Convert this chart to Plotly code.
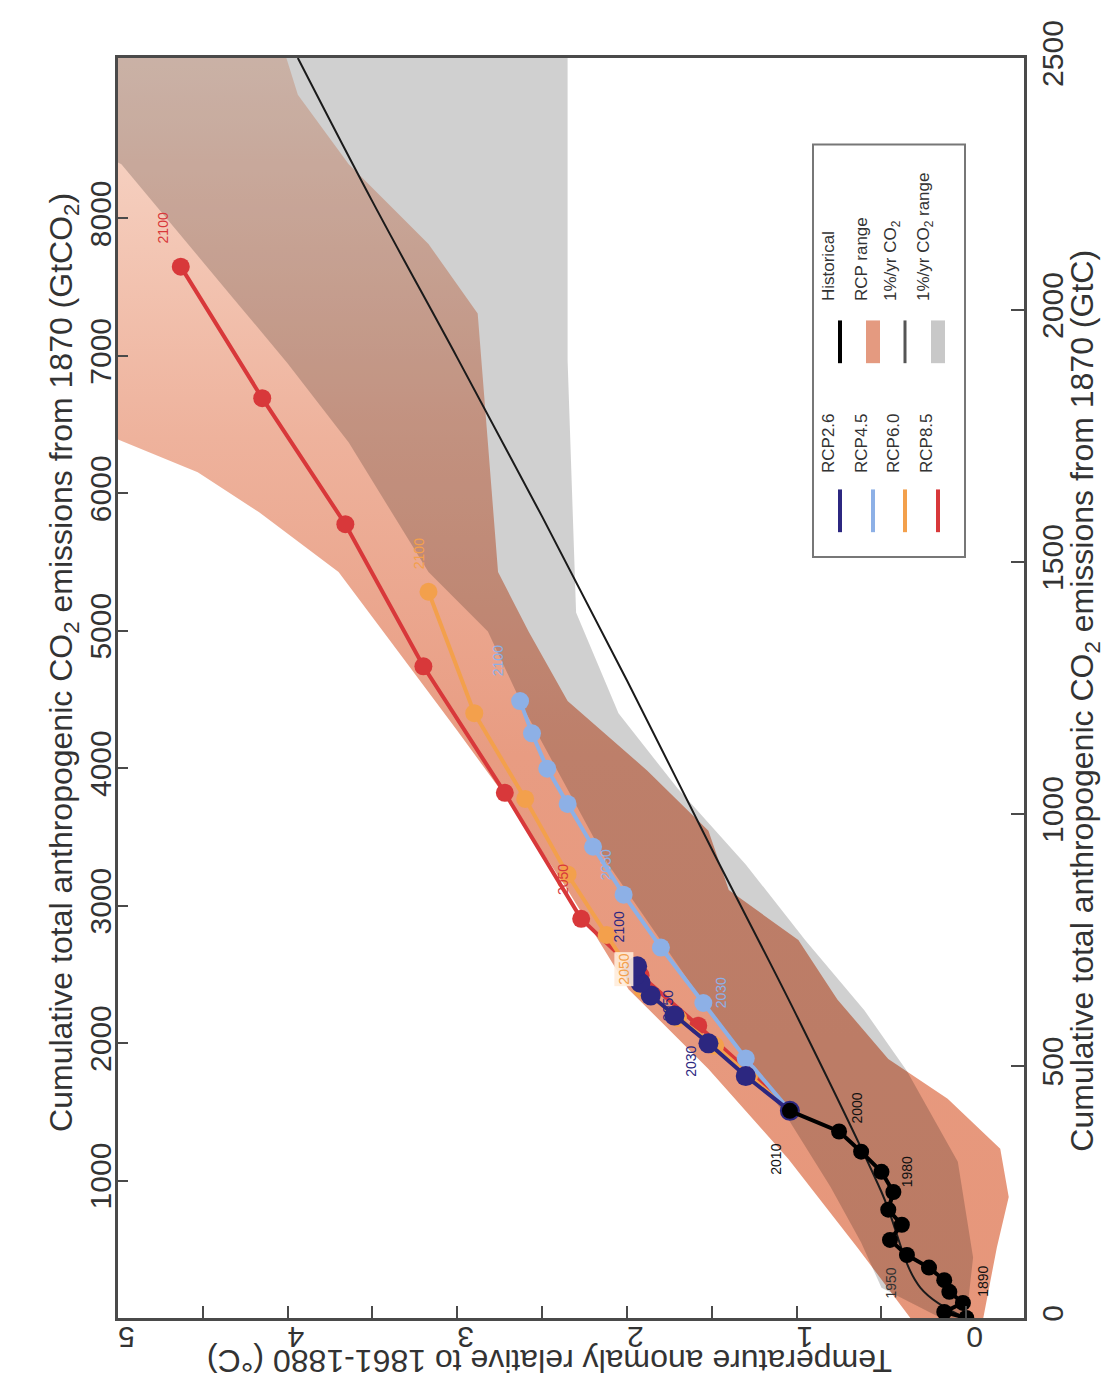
import plotly.graph_objects as go

# ---------------- data (x = temperature anomaly °C, y = cumulative GtC) ----------------
hist_years = [1870, 1880, 1890, 1900, 1910, 1920, 1930, 1940, 1950, 1960, 1970, 1980, 1990, 2000, 2010]
hist_T = [0.00, 0.13, 0.02, 0.10, 0.13, 0.22, 0.35, 0.45, 0.38, 0.46, 0.43, 0.50, 0.62, 0.75, 1.04]
hist_E = [0, 12, 30, 52, 75, 100, 125, 155, 185, 215, 250, 290, 330, 370, 411]

rcp_years = [2010, 2020, 2030, 2040, 2050, 2060, 2070, 2080, 2090, 2100]
rcp26_T = [1.04, 1.30, 1.52, 1.72, 1.86, 1.92, 1.95, 1.96, 1.95, 1.94]
rcp26_E = [411, 480, 545, 600, 640, 665, 680, 690, 695, 698]
rcp45_T = [1.04, 1.30, 1.55, 1.80, 2.02, 2.20, 2.35, 2.47, 2.56, 2.63]
rcp45_E = [411, 515, 625, 735, 840, 935, 1020, 1090, 1160, 1224]
rcp60_T = [1.04, 1.28, 1.48, 1.70, 1.91, 2.12, 2.35, 2.60, 2.90, 3.17]
rcp60_E = [411, 480, 540, 595, 652, 760, 880, 1030, 1200, 1441]
rcp85_T = [1.04, 1.30, 1.58, 1.92, 2.27, 2.72, 3.20, 3.66, 4.15, 4.63]
rcp85_E = [411, 495, 580, 680, 792, 1042, 1293, 1575, 1825, 2086]

# 1%/yr CO2 mean line
pct_T = [0.00, 0.27, 0.50, 1.00, 1.50, 2.00, 2.50, 3.00, 3.50, 3.94]
pct_E = [0, 60, 250, 600, 930, 1265, 1590, 1905, 2215, 2500]

# 1%/yr CO2 range (warm edge, cool edge)
pct_hi_T = [0.15, 0.50, 0.62, 0.80, 1.05, 1.52, 2.11, 2.60, 2.82, 3.17, 3.64, 4.00, 4.33, 4.98, 6.00, 6.00]
pct_hi_E = [0, 60, 150, 260, 395, 612, 900, 1204, 1362, 1480, 1737, 1894, 2027, 2289, 2480, 2600]
pct_lo_T = [0.00, -0.04, 0.05, 0.35, 0.60, 0.95, 1.30, 1.70, 2.05, 2.30, 2.35, 2.35]
pct_lo_E = [0, 120, 310, 490, 610, 750, 900, 1050, 1200, 1400, 1900, 2600]

# RCP range (warm edge, cool edge)
rcp_hi_T = [0.33, 0.64, 1.05, 1.52, 1.99, 2.35, 2.70, 3.00, 3.35, 3.70, 4.17, 4.53, 5.00, 6.00, 6.00]
rcp_hi_E = [0, 139, 316, 494, 652, 849, 1027, 1165, 1323, 1480, 1599, 1678, 1743, 1850, 2600]
rcp_lo_T = [-0.10, -0.18, -0.25, -0.20, 0.11, 0.46, 0.76, 0.99, 1.40, 1.52, 1.88, 2.35, 2.58, 2.76, 2.82, 2.88, 3.17, 3.64, 3.94, 4.10]
rcp_lo_E = [0, 140, 240, 336, 435, 514, 632, 750, 849, 967, 1086, 1224, 1362, 1480, 1737, 1993, 2131, 2289, 2427, 2600]

T_ticks = [0, 1, 2, 3, 4, 5]
gtc_ticks = [0, 500, 1000, 1500, 2000, 2500]
gtco2_ticks = [1000, 2000, 3000, 4000, 5000, 6000, 7000, 8000]

C_NAVY = "#2c2780"
C_LBLUE = "#8db0e6"
C_ORANGE = "#f3a04c"
C_RED = "#d8383a"
FONT = "Liberation Sans, Arial, sans-serif"

fig = go.Figure()

# RCP range (salmon, lighter toward high emissions)
fig.add_trace(go.Scatter(x=rcp_hi_T + rcp_lo_T[::-1], y=rcp_hi_E + rcp_lo_E[::-1],
                         fill="toself", line=dict(width=0), mode="lines",
                         fillgradient=dict(type="vertical", start=0, stop=2500,
                                           colorscale=[[0, "rgb(230,150,122)"], [0.45, "rgb(232,156,130)"],
                                                       [0.7, "rgb(238,178,156)"], [1, "rgb(248,218,204)"]]),
                         hoverinfo="skip", showlegend=False))
# 1%/yr range (grey, darkening what lies below it)
fig.add_trace(go.Scatter(x=pct_hi_T + pct_lo_T[::-1], y=pct_hi_E + pct_lo_E[::-1],
                         fill="toself", fillcolor="rgba(0,0,0,0.185)", line=dict(width=0),
                         mode="lines", hoverinfo="skip", showlegend=False))
# 1%/yr mean line
fig.add_trace(go.Scatter(x=pct_T, y=pct_E, mode="lines", line_shape="spline",
                         line=dict(color="#1a1a1a", width=2), showlegend=False))

def series(T, E, color, size):
    fig.add_trace(go.Scatter(x=T, y=E, mode="lines+markers",
                             line=dict(color=color, width=4),
                             marker=dict(color=color, size=size),
                             showlegend=False))

series(rcp85_T, rcp85_E, C_RED, 18)
series(rcp60_T, rcp60_E, C_ORANGE, 18)
series(rcp45_T, rcp45_E, C_LBLUE, 18)
series(rcp26_T, rcp26_E, C_NAVY, 20)
series(hist_T, hist_E, "#000000", 16)

# year labels, placed at a pixel offset from their dot
def ylabel(T, E, txt, color, dx, dy, bg=None):
    fig.add_annotation(x=T, y=E, xref="x", yref="y", text=txt, showarrow=False,
                       textangle=-90, xshift=dx, yshift=dy,
                       font=dict(family=FONT, size=14, color=color),
                       bgcolor=bg)

i2050, i2030 = rcp_years.index(2050), rcp_years.index(2030)
ylabel(rcp85_T[-1], rcp85_E[-1], "2100", C_RED, -18, 39)
ylabel(rcp85_T[i2050], rcp85_E[i2050], "2050", C_RED, -18, 39)
ylabel(rcp60_T[-1], rcp60_E[-1], "2100", C_ORANGE, -10, 38)
ylabel(rcp60_T[i2050], rcp60_E[i2050], "2050", C_ORANGE, -18, 20, "rgba(255,236,218,0.9)")
ylabel(rcp45_T[-1], rcp45_E[-1], "2100", C_LBLUE, -22, 40)
ylabel(rcp45_T[i2050], rcp45_E[i2050], "2050", C_LBLUE, -18, 30)
ylabel(rcp45_T[i2030], rcp45_E[i2030], "2030", C_LBLUE, 18, 10)
ylabel(rcp26_T[-1], rcp26_E[-1], "2100", C_NAVY, -18, 39)
ylabel(rcp26_T[i2050], rcp26_E[i2050], "2050", C_NAVY, 18, -10)
ylabel(rcp26_T[i2030], rcp26_E[i2030], "2030", C_NAVY, -17, -18)
ih = hist_years.index
ylabel(hist_T[ih(2010)], hist_E[ih(2010)], "2010", "#111111", -14, -48)
ylabel(hist_T[ih(2000)], hist_E[ih(2000)], "2000", "#111111", 17, 23)
ylabel(hist_T[ih(1980)], hist_E[ih(1980)], "1980", "#111111", 25, 0)
ylabel(hist_T[ih(1950)], hist_E[ih(1950)], "1950", "#333333", -11, -58)
ylabel(hist_T[ih(1890)], hist_E[ih(1890)], "1890", "#111111", 20, 22)

# ---------------- axes ----------------
LINE = "#4a4a4a"
fig.update_layout(
    width=1119, height=1397,
    margin=dict(l=110, r=103, t=43, b=87),
    paper_bgcolor="white", plot_bgcolor="white",
    font=dict(family=FONT, size=30, color="#333333"),
    xaxis=dict(range=[5, -0.34], tickvals=T_ticks, ticktext=[str(v) for v in T_ticks],
               tickangle=180, ticks="inside", ticklen=12, tickwidth=2, tickcolor=LINE,
               minor=dict(dtick=0.5, ticks="inside", ticklen=12, tickwidth=2, tickcolor=LINE),
               showgrid=False, zeroline=False, showline=True, linecolor=LINE, linewidth=3,
               mirror=True, tickfont=dict(size=30, color="#333333")),
    yaxis=dict(range=[0, 2500], tickvals=gtc_ticks, side="right", tickangle=-90,
               ticks="inside", ticklen=13, tickwidth=2, tickcolor=LINE,
               showgrid=False, zeroline=False, showline=True, linecolor=LINE, linewidth=3,
               mirror=True, tickfont=dict(size=30, color="#333333")),
    yaxis2=dict(range=[0, 2500 * 44 / 12], tickvals=gtco2_ticks, overlaying="y", side="left",
                tickangle=-90, ticks="inside", ticklen=10, tickwidth=2, tickcolor=LINE,
                showgrid=False, zeroline=False, showline=False,
                tickfont=dict(size=30, color="#333333")),
)
fig.add_trace(go.Scatter(x=[None], y=[None], yaxis="y2", showlegend=False))

# axis titles
fig.add_annotation(xref="paper", yref="paper", x=(1099 - 110) / 906, y=(1310.5 - 690) / 1267.5,
                   text="Cumulative total anthropogenic CO<sub>2</sub> emissions from 1870 (GtC)",
                   textangle=-90, showarrow=False, font=dict(size=32, color="#333333"))
fig.add_annotation(xref="paper", yref="paper", x=(33 - 110) / 906, y=(1310.5 - 651) / 1267.5,
                   text="Cumulative total anthropogenic CO<sub>2</sub> emissions from 1870 (GtCO<sub>2</sub>)",
                   textangle=-90, showarrow=False, font=dict(size=32, color="#333333"))
fig.add_annotation(xref="paper", yref="paper", x=(542 - 110) / 906, y=(1310.5 - 1374) / 1267.5,
                   text="Temperature anomaly relative to 1861-1880 (°C)",
                   textangle=180, showarrow=False, font=dict(size=32, color="#333333"))

# ---------------- legend (rotated, drawn by hand) ----------------
def px(xp):
    return (xp - 110) / 906
def py(yp):
    return (1310.5 - yp) / 1267.5

fig.add_shape(type="rect", xref="paper", yref="paper", x0=px(805), x1=px(957), y0=py(545), y1=py(130),
              line=dict(color="#777777", width=2), fillcolor="white")
leg_x = [832, 865, 897, 930]
rcp_names = ["RCP2.6", "RCP4.5", "RCP6.0", "RCP8.5"]
rcp_cols = [C_NAVY, C_LBLUE, C_ORANGE, C_RED]
for xx, nm, cc in zip(leg_x, rcp_names, rcp_cols):
    fig.add_shape(type="line", xref="paper", yref="paper", x0=px(xx), x1=px(xx), y0=py(520), y1=py(477),
                  line=dict(color=cc, width=4))
    fig.add_annotation(xref="paper", yref="paper", x=px(xx), y=py(463), text=nm, textangle=-90,
                       showarrow=False, yanchor="bottom", font=dict(size=17, color="#333333"))
oth_names = ["Historical", "RCP range", "1%/yr CO<sub>2</sub>", "1%/yr CO<sub>2</sub> range"]
for i, (xx, nm) in enumerate(zip(leg_x, oth_names)):
    if i == 0:
        fig.add_shape(type="line", xref="paper", yref="paper", x0=px(xx), x1=px(xx), y0=py(350), y1=py(307),
                      line=dict(color="black", width=4))
    elif i == 2:
        fig.add_shape(type="line", xref="paper", yref="paper", x0=px(xx), x1=px(xx), y0=py(350), y1=py(307),
                      line=dict(color="#555555", width=3))
    else:
        fig.add_shape(type="rect", xref="paper", yref="paper", x0=px(xx - 7), x1=px(xx + 7), y0=py(350), y1=py(307),
                      line=dict(width=0), fillcolor=("#e49a80" if i == 1 else "#c8c8c8"))
    fig.add_annotation(xref="paper", yref="paper", x=px(xx), y=py(290), text=nm, textangle=-90,
                       showarrow=False, yanchor="bottom", font=dict(size=17, color="#333333"))

fig.write_html("out.html")
